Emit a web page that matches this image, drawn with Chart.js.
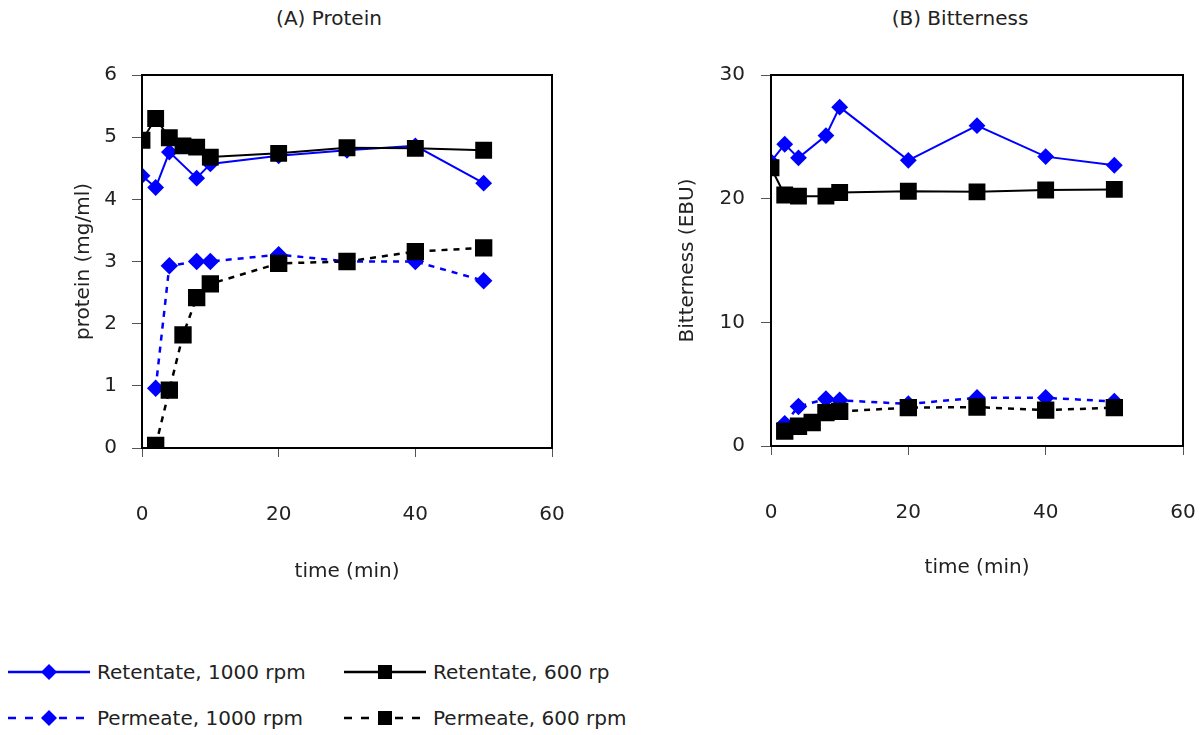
<!DOCTYPE html>
<html>
<head>
<meta charset="utf-8">
<script src="https://cdn.jsdelivr.net/npm/chart.js@4.4.1/dist/chart.umd.min.js"></script>
<style>
  body { margin: 0; background: #fff; font-family: "DejaVu Sans", sans-serif; color: #222; }
  #wrap { position: relative; width: 1202px; height: 735px; overflow: hidden; }
  canvas { position: absolute; top: 0; }
  .ttl { position: absolute; top: 6px; width: 300px; text-align: center; font-size: 20px; line-height: 24px; }
  .leg { position: absolute; font-size: 20px; line-height: 24px; white-space: nowrap; }
  .leg svg { position: absolute; left: 0; top: 0; }
  .leg span { position: absolute; top: 0; }
</style>
</head>
<body>
<div id="wrap">
  <div class="ttl" style="left:179px">(A) Protein</div>
  <div class="ttl" style="left:810px">(B) Bitterness</div>
  <canvas id="chartA" width="601" height="600" style="left:0"></canvas>
  <canvas id="chartB" width="601" height="600" style="left:601px"></canvas>
  <div id="legend"></div>
</div>
<script>
    "use strict";

    // series labels
    var seriesNames = ["Retentate, 1000 rpm", "Retentate, 600 rp", "Permeate, 1000 rpm", "Permeate, 600 rpm"];

    // (A) Protein - sampling times (min) and values (mg/ml)
    var protRet1000Time = [0, 2, 4, 8, 10, 20, 30, 40, 50];
    var protRet1000 = [4.38, 4.19, 4.76, 4.34, 4.57, 4.70, 4.79, 4.86, 4.26];
    var protRet600Time = [0, 2, 4, 6, 8, 10, 20, 30, 40, 50];
    var protRet600 = [4.95, 5.30, 4.99, 4.86, 4.84, 4.68, 4.74, 4.83, 4.82, 4.79];
    var protPerm1000Time = [2, 4, 8, 10, 20, 30, 40, 50];
    var protPerm1000 = [0.96, 2.93, 3.00, 3.00, 3.11, 3.00, 3.00, 2.69];
    var protPerm600Time = [2, 4, 6, 8, 10, 20, 30, 40, 50];
    var protPerm600 = [0.04, 0.93, 1.82, 2.42, 2.64, 2.97, 3.00, 3.16, 3.22];

    // (B) Bitterness - sampling times (min) and values (EBU)
    var bitRet1000Time = [0, 2, 4, 8, 10, 20, 30, 40, 50];
    var bitRet1000 = [23.0, 24.4, 23.3, 25.1, 27.4, 23.1, 25.9, 23.4, 22.7];
    var bitRet600Time = [0, 2, 4, 8, 10, 20, 30, 40, 50];
    var bitRet600 = [22.5, 20.3, 20.2, 20.2, 20.5, 20.6, 20.55, 20.7, 20.75];
    var bitPerm1000Time = [2, 4, 8, 10, 20, 30, 40, 50];
    var bitPerm1000 = [1.8, 3.2, 3.8, 3.7, 3.4, 3.9, 3.9, 3.6];
    var bitPerm600Time = [2, 4, 6, 8, 10, 20, 30, 40, 50];
    var bitPerm600 = [1.2, 1.6, 1.9, 2.7, 2.8, 3.1, 3.15, 2.9, 3.1];

    // axis ticks
    var timeTicks = [0, 20, 40, 60];
    var protTicks = [0, 1, 2, 3, 4, 5, 6];
    var bitTicks = [0, 10, 20, 30];

    var font = { family: "DejaVu Sans", size: 20 };
    var textColor = "#222";

    function pts(xs, ys) {
        return xs.map(function (x, i) { return { x: x, y: ys[i] }; });
    }

    function makeSets(t) {
        return [
            { label: seriesNames[0], data: pts(t[0], t[1]), borderColor: "#0000ff", backgroundColor: "#0000ff",
              borderWidth: 2, pointStyle: "rectRot", pointRadius: 7, order: 2 },
            { label: seriesNames[1], data: pts(t[2], t[3]), borderColor: "#000", backgroundColor: "#000",
              borderWidth: 2, pointStyle: "rect", pointRadius: 10.5, order: 0 },
            { label: seriesNames[2], data: pts(t[4], t[5]), borderColor: "#0000ff", backgroundColor: "#0000ff",
              borderWidth: 2.5, borderDash: [6, 6], pointStyle: "rectRot", pointRadius: 7, order: 3 },
            { label: seriesNames[3], data: pts(t[6], t[7]), borderColor: "#000", backgroundColor: "#000",
              borderWidth: 2.5, borderDash: [6, 6], pointStyle: "rect", pointRadius: 10.5, order: 1 }
        ];
    }

    // box around plot area
    var frame = {
        id: "frame",
        afterDraw: function (chart) {
            var a = chart.chartArea, c = chart.ctx;
            c.save();
            c.strokeStyle = "#000";
            c.lineWidth = 2;
            c.strokeRect(a.left, a.top, a.right - a.left, a.bottom - a.top);
            c.restore();
        }
    };

    function makeChart(id, sets, yTicks, yMax, yTitle, cfg) {
        var ctx = document.getElementById(id).getContext("2d");
        return new Chart(ctx, {
            type: "line",
            data: { datasets: sets },
            options: {
                responsive: false,
                animation: false,
                layout: { padding: { left: 0, top: 75, right: cfg.right, bottom: 0 } },
                plugins: { legend: { display: false }, tooltip: { enabled: false } },
                elements: { line: { tension: 0 }, point: { borderWidth: 1 } },
                scales: {
                    x: {
                        type: "linear", min: 0, max: 60,
                        afterBuildTicks: function (s) { s.ticks = timeTicks.map(function (v) { return { value: v }; }); },
                        afterFit: function (s) {
                            s.height = 600 - cfg.bottom;
                            // big label padding should not shrink the plot width
                            s.paddingLeft = 0;
                            s.paddingRight = 0;
                        },
                        grid: { drawOnChartArea: false, tickLength: 9, color: "#555", lineWidth: 1 },
                        border: { color: "#000", width: 2 },
                        ticks: { font: font, color: textColor, padding: 46, maxRotation: 0 },
                        title: { display: true, text: "time (min)", font: font, color: textColor,
                                 padding: { top: 0, bottom: cfg.xTitlePad } }
                    },
                    y: {
                        min: 0, max: yMax,
                        afterBuildTicks: function (s) { s.ticks = yTicks.map(function (v) { return { value: v }; }); },
                        afterFit: function (s) { s.width = cfg.left; },
                        grid: { drawOnChartArea: false, tickLength: 10, color: "#555", lineWidth: 1 },
                        border: { color: "#000", width: 2 },
                        ticks: { font: font, color: textColor, padding: cfg.yTickPad },
                        title: { display: true, text: yTitle, font: font, color: textColor,
                                 padding: { top: cfg.yTitlePad, bottom: 0 } }
                    }
                }
            },
            plugins: [frame]
        });
    }

    makeChart("chartA",
        makeSets([protRet1000Time, protRet1000, protRet600Time, protRet600,
                  protPerm1000Time, protPerm1000, protPerm600Time, protPerm600]),
        protTicks, 6, "protein (mg/ml)",
        { left: 142, right: 49, bottom: 448, xTitlePad: 16, yTitlePad: 72, yTickPad: 15 });

    makeChart("chartB",
        makeSets([bitRet1000Time, bitRet1000, bitRet600Time, bitRet600,
                  bitPerm1000Time, bitPerm1000, bitPerm600Time, bitPerm600]),
        bitTicks, 30, "Bitterness (EBU)",
        { left: 170, right: 19, bottom: 446, xTitlePad: 20, yTitlePad: 75, yTickPad: 16 });

    // Legend (HTML, 2 x 2)
    var legendItems = [
        { x: 8, y: 660, color: "#0000ff", dash: false, mark: "diamond" },
        { x: 344, y: 660, color: "#000", dash: false, mark: "square" },
        { x: 8, y: 706, color: "#0000ff", dash: true, mark: "diamond" },
        { x: 344, y: 706, color: "#000", dash: true, mark: "square" }
    ];
    var legendHtml = "";
    legendItems.forEach(function (it, i) {
        var m = it.mark === "diamond"
            ? '<polygon points="41,4 49,12 41,20 33,12" fill="' + it.color + '"/>'
            : '<rect x="34" y="5" width="14" height="14" fill="' + it.color + '"/>';
        var dash = it.dash ? ' stroke-dasharray="8 9"' : "";
        legendHtml += '<div class="leg" style="left:' + it.x + 'px;top:' + it.y + 'px;width:400px;height:24px">' +
            '<svg width="84" height="24"><line x1="0" y1="12" x2="82" y2="12" stroke="' + it.color +
            '" stroke-width="2.5"' + dash + '/>' + m + '</svg>' +
            '<span style="left:89px">' + seriesNames[i] + '</span></div>';
    });
    document.getElementById("legend").innerHTML = legendHtml;
</script>
</body>
</html>
